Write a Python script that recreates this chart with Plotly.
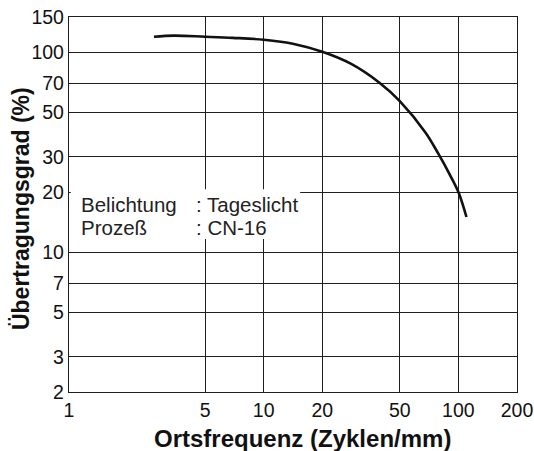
import plotly.graph_objects as go

# Data
freq = [2.73, 3.47, 5, 6.94, 10, 14.3, 20, 28, 39.6, 50, 68, 79, 89.6, 100, 110]
transfer = [119.5, 121, 119.5, 118, 115.5, 110, 100.5, 87.6, 70, 57, 39.5, 31, 24.8, 20, 15]

x_ticks = [1, 5, 10, 20, 50, 100, 200]
y_ticks = [2, 3, 5, 7, 10, 20, 30, 50, 70, 100, 150]

font_family = "Liberation Sans, Arial, sans-serif"

fig = go.Figure()
fig.add_trace(go.Scatter(
    x=freq, y=transfer, mode="lines",
    line=dict(color="#111111", width=2.6, shape="spline", smoothing=1.0),
    hoverinfo="skip", showlegend=False,
))

axis_common = dict(
    type="log",
    showgrid=True, gridcolor="#1e1e1e", gridwidth=1.3,
    showline=True, linecolor="#1e1e1e", linewidth=1.3, mirror=True,
    ticks="", zeroline=False, automargin=False,
    tickfont=dict(family=font_family, size=19.5, color="#111111"),
)

fig.update_layout(
    width=534, height=451,
    margin=dict(l=69, r=17, t=17, b=59),
    paper_bgcolor="white", plot_bgcolor="white",
    xaxis=dict(
        **axis_common,
        range=[0, 2.30103],
        tickvals=x_ticks, ticktext=[str(v) for v in x_ticks],
    ),
    yaxis=dict(
        **axis_common,
        range=[0.30103, 2.176091],
        tickvals=y_ticks, ticktext=[str(v) for v in y_ticks],
    ),
    shapes=[dict(
        type="rect", xref="paper", yref="paper",
        x0=0.004, x1=0.516, y0=0.408, y1=0.541,
        fillcolor="white", line=dict(width=0), layer="above",
    )],
)

# Axis titles
fig.add_annotation(
    text="<b>Ortsfrequenz (Zyklen/mm)</b>", xref="paper", yref="paper",
    x=0.521, y=-0.125, xanchor="center", yanchor="middle", showarrow=False,
    font=dict(family=font_family, size=24, color="#111111"),
)
fig.add_annotation(
    text="<b>Übertragungsgrad (%)</b>", xref="paper", yref="paper",
    x=-0.107, y=0.488, xanchor="center", yanchor="middle", showarrow=False,
    textangle=-90,
    font=dict(family=font_family, size=23, color="#111111"),
)

ann_font = dict(family=font_family, size=20.5, color="#222222")
for txt, xp, yp in [
    ("Belichtung", 0.022, 0.501),
    ("Prozeß", 0.022, 0.44),
    (": Tageslicht", 0.279, 0.501),
    (": CN-16", 0.279, 0.44),
]:
    fig.add_annotation(
        text=txt, xref="paper", yref="paper", x=xp, y=yp,
        xanchor="left", yanchor="middle", showarrow=False, font=ann_font,
    )

fig.write_html(
    "out.html",
    config={"displayModeBar": False},
    post_script="document.body.style.margin='0';",
)
